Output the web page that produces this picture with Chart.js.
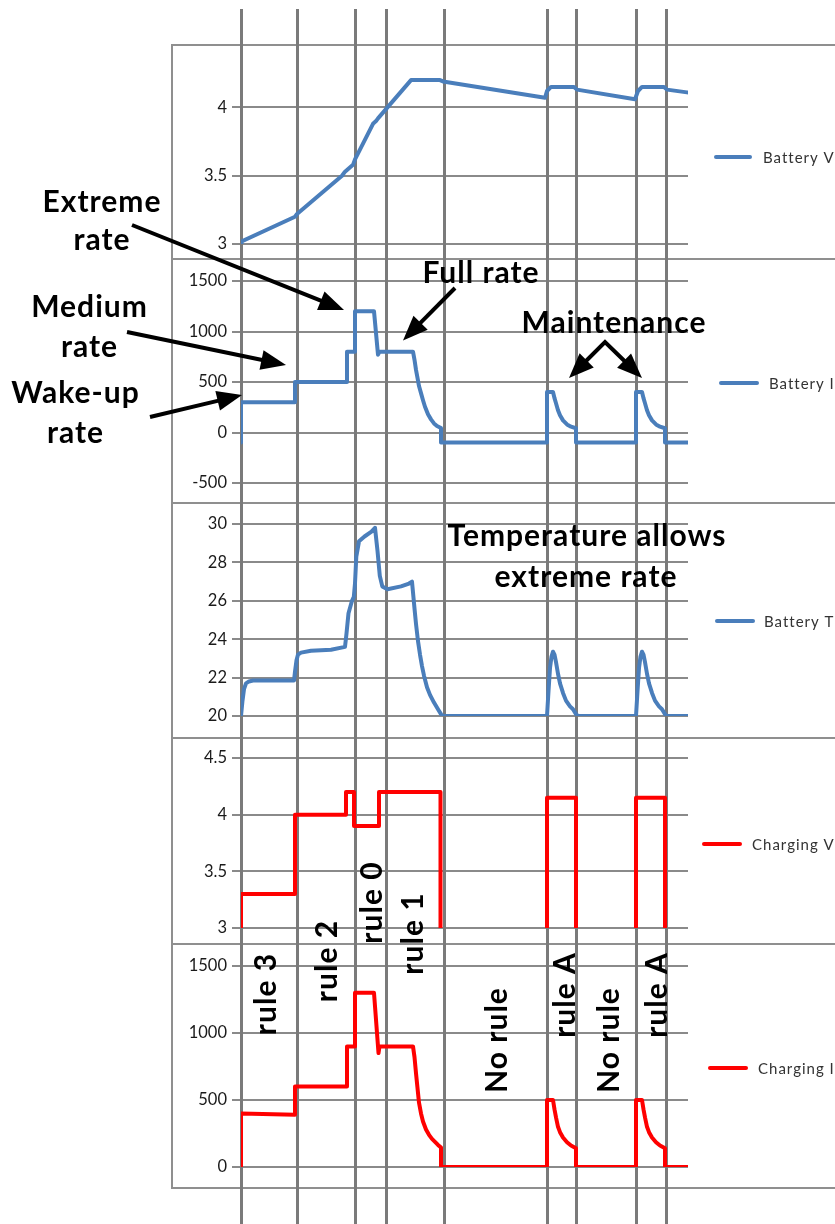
<!DOCTYPE html>
<html>
<head>
<meta charset="utf-8">
<title>Battery charging rules</title>
<script src="https://cdn.jsdelivr.net/npm/chart.js@4/dist/chart.umd.min.js"></script>
<style>
  html, body { margin: 0; padding: 0; background: #fff; }
  #page { position: relative; width: 835px; height: 1224px; overflow: hidden; background: #fff; }
  #page canvas { position: absolute; left: 0; }
  #notes { top: 0; z-index: 5; pointer-events: none; }
</style>
</head>
<body>
<div id="page">
  <canvas id="cBatteryV"></canvas>
  <canvas id="cBatteryI"></canvas>
  <canvas id="cBatteryT"></canvas>
  <canvas id="cChargingV"></canvas>
  <canvas id="cChargingI"></canvas>
  <canvas id="notes" width="835" height="1224"></canvas>
</div>
<script>
// ---- data: time in minutes from start ----
const timeStart = 0;
const timeEnd = 447;

// moments where the charging rule changes
const ruleChangeTimes = [0, 56, 114, 145, 202.5, 306, 335, 395, 425];

// [time, volts]
const batteryV = [
  [0, 2.98], [0.5, 3.02], [54, 3.2], [56, 3.22], [101, 3.5], [104, 3.53], [112, 3.58],
  [114, 3.62], [132, 3.88], [135, 3.9], [137, 3.92], [170, 4.2], [199, 4.2], [202, 4.19],
  [304, 4.07], [306, 4.12], [310, 4.15], [333, 4.15], [336, 4.13], [394, 4.06], [397, 4.12],
  [401, 4.15], [423, 4.15], [426, 4.13], [446, 4.11]
];

// [time, mA]
const batteryI = [
  [0, -100], [0, 300], [54, 300], [54, 500], [106, 500], [106, 800], [114, 800], [114, 1200],
  [133, 1200], [137, 770], [138.5, 800], [172, 800], [173.5, 720], [175, 620], [176.5, 540],
  [178, 460], [180, 390], [182, 320], [184, 255], [187, 180], [190, 130], [193, 90], [196, 65],
  [200, 45], [200, -100], [306, -100], [306, 400], [312, 400], [313.5, 340], [315, 290],
  [317, 220], [319, 170], [322, 120], [326, 80], [330, 58], [335, 42], [335, -100], [395, -100],
  [395, 400], [401, 400], [402.5, 340], [404, 290], [406, 220], [408, 170], [411, 120],
  [415, 80], [419, 58], [424, 42], [424, -100], [447, -100]
];

// [time, degC]
const batteryT = [
  [0, 20], [1.5, 20.8], [3, 21.4], [5, 21.7], [8, 21.8], [12, 21.85], [53, 21.85], [54, 22.3],
  [55.5, 22.9], [57, 23.2], [60, 23.3], [70, 23.4], [90, 23.45], [104, 23.6], [105.5, 24.3],
  [107.5, 25.35], [111, 26.0], [112.8, 26.2], [114, 26.9], [115.3, 28.3], [118, 29.1],
  [123.5, 29.35], [130.5, 29.6], [134, 29.8], [136.5, 28.6], [138.8, 27.3], [141.3, 26.75],
  [146.5, 26.6], [160, 26.75], [168, 26.9], [171, 27.0], [173.5, 25.6], [175, 24.8],
  [177, 23.9], [179, 23.2], [181, 22.6], [183, 22.1], [186, 21.5], [189, 21.1], [193, 20.7],
  [197, 20.35], [200, 20.1], [202, 20.0], [306, 20], [307.5, 21.3], [309, 22.5], [310.5, 23.1],
  [312, 23.35], [313.5, 23.2], [315, 22.8], [317, 22.2], [319, 21.7], [322, 21.2], [325, 20.8],
  [329, 20.5], [332, 20.35], [335, 20.1], [337, 20], [395, 20], [396.5, 21.3], [398, 22.5],
  [399.5, 23.1], [401, 23.35], [402.5, 23.2], [404, 22.8], [406, 22.2], [408, 21.7],
  [411, 21.2], [414, 20.8], [418, 20.5], [421, 20.35], [424, 20.1], [426, 20], [447, 20]
];

// [time, volts] (0 while the charger is off)
const chargingV = [
  [0, 0], [0, 3.3], [54, 3.3], [54, 4.0], [105, 4.0], [105, 4.2], [113, 4.2], [113, 3.9],
  [138, 3.9], [138, 4.2], [199.5, 4.2], [199.5, 0], [306, 0], [306, 4.15], [335, 4.15],
  [335, 0], [395, 0], [395, 4.15], [424, 4.15], [424, 0], [447, 0]
];

// [time, mA]
const chargingI = [
  [0, 0], [0, 400], [54, 390], [54, 600], [106, 600], [106, 900], [114, 900], [114, 1300],
  [133, 1300], [137.5, 850], [138.5, 900], [172, 900], [173.5, 820], [175, 700], [176.5, 590],
  [178, 480], [180, 400], [182, 340], [185, 280], [188, 240], [191, 210], [194, 188],
  [197, 165], [200, 145], [200, 0], [306, 0], [306, 500], [312, 500], [313.5, 430], [315, 370],
  [317, 300], [319, 260], [322, 220], [326, 185], [330, 160], [335, 140], [335, 0], [395, 0],
  [395, 500], [401, 500], [402.5, 430], [404, 370], [406, 300], [408, 260], [411, 220],
  [415, 185], [419, 160], [424, 140], [424, 0], [447, 0]
];

// value-axis tick labels
const batteryVTicks = [3, 3.5, 4];
const batteryITicks = [-500, 0, 500, 1000, 1500];
const batteryTTicks = [20, 22, 24, 26, 28, 30];
const chargingVTicks = [3, 3.5, 4, 4.5];
const chargingITicks = [0, 500, 1000, 1500];

// ---- styling ----
const BLUE = '#4a7ebb';
const RED = '#ff0000';
const GRID = '#8a8a8a';
const RULE_LINE = '#7a7a7a';
const FRAME = '#8f8f8f';
const PAGE_W = 835;
const PLOT_LEFT = 241;
const PLOT_RIGHT = 688;
const FRAME_LEFT = 172;

// frame, rule-change lines and legend for each stacked panel
const panelDecor = {
  id: 'panelDecor',
  beforeDraw(chart, args, o) {
    const ctx = chart.ctx;
    ctx.save();
    ctx.strokeStyle = FRAME;
    ctx.lineWidth = 2;
    ctx.strokeRect(FRAME_LEFT, o.frameTop, PAGE_W + 20 - FRAME_LEFT, o.frameBottom - o.frameTop);
    ctx.restore();
  },
  beforeDatasetsDraw(chart, args, o) {
    const ctx = chart.ctx;
    const xs = chart.scales.x;
    ctx.save();
    ctx.strokeStyle = RULE_LINE;
    ctx.lineWidth = 3;
    ruleChangeTimes.forEach(t => {
      const px = Math.round(xs.getPixelForValue(t)) + 0.5;
      ctx.beginPath();
      ctx.moveTo(px, o.lineTop);
      ctx.lineTo(px, chart.height);
      ctx.stroke();
    });
    ctx.restore();
  },
  afterDraw(chart, args, o) {
    const ctx = chart.ctx;
    const ds = chart.data.datasets[0];
    const lg = o.legend;
    ctx.save();
    ctx.strokeStyle = ds.borderColor;
    ctx.lineWidth = 4;
    ctx.lineCap = 'round';
    ctx.beginPath();
    ctx.moveTo(lg.x1 + 2, lg.y);
    ctx.lineTo(lg.x2 - 2, lg.y);
    ctx.stroke();
    ctx.fillStyle = '#333333';
    ctx.font = '15px Lato';
    ctx.letterSpacing = '1px';
    ctx.textAlign = 'left';
    ctx.textBaseline = 'middle';
    ctx.fillText(ds.label, lg.tx, lg.y + 1);
    ctx.restore();
  }
};

const panels = [
  { id: 'cBatteryV', top: 0, height: 259, frame: [45, 259], pad: [66.4, 14.3], min: 3, max: 4.3,
    ticks: batteryVTicks, label: 'Battery V', color: BLUE, data: batteryV, lineTop: 9,
    legend: { x1: 714, x2: 752, y: 157, tx: 763 } },
  { id: 'cBatteryI', top: 259, height: 244, frame: [259, 503], pad: [22, 20], min: -500, max: 1500,
    ticks: batteryITicks, label: 'Battery I', color: BLUE, data: batteryI, lineTop: 0,
    legend: { x1: 719, x2: 759, y: 383, tx: 769 } },
  { id: 'cBatteryT', top: 503, height: 235, frame: [503, 738], pad: [21, 22], min: 20, max: 30,
    ticks: batteryTTicks, label: 'Battery T', color: BLUE, data: batteryT, lineTop: 0,
    legend: { x1: 715, x2: 755, y: 621, tx: 764 } },
  { id: 'cChargingV', top: 738, height: 206, frame: [738, 944], pad: [20, 16], min: 3, max: 4.5,
    ticks: chargingVTicks, label: 'Charging V', color: RED, data: chargingV, lineTop: 0,
    legend: { x1: 702, x2: 742, y: 844, tx: 752 } },
  { id: 'cChargingI', top: 944, height: 280, frame: [944, 1188], pad: [22, 57], min: 0, max: 1500,
    ticks: chargingITicks, label: 'Charging I', color: RED, data: chargingI, lineTop: 0,
    legend: { x1: 708, x2: 748, y: 1068, tx: 758 } }
];

panels.forEach(p => {
  const cv = document.getElementById(p.id);
  cv.width = PAGE_W;
  cv.height = p.height;
  cv.style.top = p.top + 'px';
  new Chart(cv, {
    type: 'line',
    data: {
      datasets: [{
        label: p.label,
        data: p.data.map(([t, v]) => ({ x: t, y: v })),
        borderColor: p.color,
        backgroundColor: p.color,
        borderWidth: 4,
        pointRadius: 0,
        tension: 0,
        fill: false,
        borderCapStyle: 'round',
        borderJoinStyle: 'round'
      }]
    },
    options: {
      responsive: false,
      animation: false,
      events: [],
      layout: { padding: { left: 0, right: PAGE_W - PLOT_RIGHT, top: p.pad[0], bottom: p.pad[1] } },
      scales: {
        x: { type: 'linear', min: timeStart, max: timeEnd, display: false },
        y: {
          type: 'linear',
          min: p.min,
          max: p.max,
          afterBuildTicks: s => { s.ticks = p.ticks.map(v => ({ value: v })); },
          afterFit: s => { s.width = PLOT_LEFT; },
          border: { display: false },
          grid: { color: GRID, lineWidth: 2, tickLength: 9, drawTicks: true },
          ticks: {
            color: '#1a1a1a',
            padding: 5,
            font: { family: 'Lato', size: 16.5 },
            callback: v => String(v)
          }
        }
      },
      plugins: {
        legend: { display: false },
        tooltip: { enabled: false },
        panelDecor: {
          frameTop: p.frame[0] - p.top,
          frameBottom: p.frame[1] - p.top,
          lineTop: p.lineTop,
          legend: {
            x1: p.legend.x1, x2: p.legend.x2, y: p.legend.y - p.top, tx: p.legend.tx
          }
        }
      }
    },
    plugins: [panelDecor]
  });
});

// ---- callouts ----
const nctx = document.getElementById('notes').getContext('2d');
nctx.fillStyle = '#000';
nctx.strokeStyle = '#000';
nctx.font = 'bold 30px Lato';
nctx.letterSpacing = '1px';
nctx.textAlign = 'center';
nctx.textBaseline = 'alphabetic';

// [text, centre x, baseline y]
const captions = [
  ['Extreme', 102, 212], ['rate', 102, 250],
  ['Medium', 89.5, 317], ['rate', 89.5, 357],
  ['Wake-up', 75.5, 403], ['rate', 75.5, 443],
  ['Full rate', 481, 283],
  ['Maintenance', 614, 333],
  ['Temperature allows', 587, 546], ['extreme rate', 586, 587]
];
captions.forEach(([s, x, y]) => nctx.fillText(s, x, y));

// rule names written upwards: [text, baseline x, centre y]
const ruleNames = [
  ['rule 3', 275.5, 994], ['rule 2', 337, 961], ['rule 0', 382, 902.5], ['rule 1', 423, 933.5],
  ['No rule', 507, 1040], ['rule A', 575, 995], ['No rule', 619, 1040], ['rule A', 667, 995]
];
ruleNames.forEach(([s, x, y]) => {
  nctx.save();
  nctx.translate(x, y);
  nctx.rotate(-Math.PI / 2);
  nctx.fillText(s, 0, 0);
  nctx.restore();
});

function arrowHead(x1, y1, x2, y2) {
  const a = Math.atan2(y2 - y1, x2 - x1);
  const hl = 25, hw = 10;
  const bx = x2 - hl * Math.cos(a), by = y2 - hl * Math.sin(a);
  nctx.beginPath();
  nctx.moveTo(x2, y2);
  nctx.lineTo(bx + hw * Math.sin(a), by - hw * Math.cos(a));
  nctx.lineTo(bx - hw * Math.sin(a), by + hw * Math.cos(a));
  nctx.closePath();
  nctx.fill();
  return [x2 - (hl - 2) * Math.cos(a), y2 - (hl - 2) * Math.sin(a)];
}
function arrow(x1, y1, x2, y2) {
  const [bx, by] = arrowHead(x1, y1, x2, y2);
  nctx.lineWidth = 4;
  nctx.beginPath();
  nctx.moveTo(x1, y1);
  nctx.lineTo(bx, by);
  nctx.stroke();
}
arrow(132, 225, 344, 310);
arrow(127, 332, 286, 365);
arrow(150, 417, 242, 395);
arrow(455, 288, 403, 340.5);

// twin arrow for the maintenance pulses
const apex = [605, 342];
const lTip = [569, 378], rTip = [642, 378];
const lb = arrowHead(apex[0], apex[1], lTip[0], lTip[1]);
const rb = arrowHead(apex[0], apex[1], rTip[0], rTip[1]);
nctx.lineWidth = 4;
nctx.lineJoin = 'miter';
nctx.beginPath();
nctx.moveTo(lb[0], lb[1]);
nctx.lineTo(apex[0], apex[1]);
nctx.lineTo(rb[0], rb[1]);
nctx.stroke();
</script>
</body>
</html>
